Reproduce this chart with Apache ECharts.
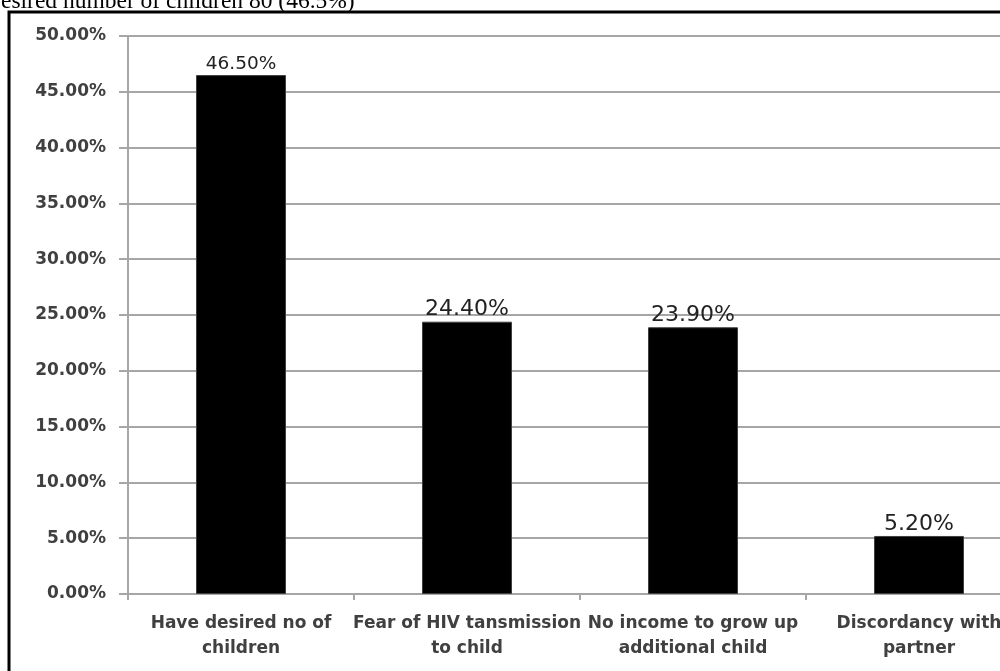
<!DOCTYPE html>
<html>
<head>
<meta charset="utf-8">
<script src="https://cdn.jsdelivr.net/npm/echarts@6/dist/echarts.min.js"></script>
<style>
  html, body { margin: 0; padding: 0; background: #fff; }
  #chart { width: 1000px; height: 671px; }
</style>
</head>
<body>
<div id="chart"></div>
<script>
// Reasons given for not wanting more children (percent of respondents)
const categories = [
  'Have desired no of\nchildren',
  'Fear of HIV tansmission\nto child',
  'No income to grow up\nadditional child',
  'Discordancy with\npartner'
];
const percentages = [46.5, 24.4, 23.9, 5.2];
const valueLabelSizes = [18.5, 22, 22, 22];
const headingText = 'Desired number of children 80 (46.5%)';

const chart = echarts.init(document.getElementById('chart'));

const barData = percentages.map((v, i) => ({
  value: v,
  label: { fontSize: valueLabelSizes[i] }
}));

chart.setOption({
  animation: false,
  backgroundColor: '#ffffff',
  // plot area runs past the right edge of the canvas
  grid: {
    left: 128, width: 904, top: 36, height: 558,
    containLabel: false,
    outerBoundsMode: 'none'
  },
  graphic: [
    {
      type: 'rect',
      shape: { x: 9, y: 12, width: 1200, height: 900 },
      style: { fill: 'none', stroke: '#000', lineWidth: 3 },
      z: 0
    },
    {
      type: 'text',
      x: -16,
      y: -10,
      style: {
        text: headingText,
        fontFamily: '"Liberation Serif", "Times New Roman", serif',
        fontSize: 23.5,
        fill: '#000'
      }
    }
  ],
  xAxis: {
    type: 'category',
    data: categories,
    axisLine: { lineStyle: { color: '#a6a6a6', width: 2 } },
    axisTick: { show: true, length: 6, alignWithLabel: false, lineStyle: { color: '#a6a6a6', width: 2 } },
    axisLabel: {
      color: '#404040',
      fontFamily: 'DejaVu Sans',
      fontWeight: 'bold',
      fontSize: 17,
      lineHeight: 25,
      margin: 17,
      interval: 0
    }
  },
  yAxis: {
    type: 'value',
    min: 0,
    max: 50,
    interval: 5,
    axisLine: { show: true, lineStyle: { color: '#a6a6a6', width: 2 } },
    axisTick: { show: true, length: 9, lineStyle: { color: '#a6a6a6', width: 2 } },
    splitLine: { lineStyle: { color: '#a6a6a6', width: 2 } },
    axisLabel: {
      color: '#404040',
      fontFamily: 'DejaVu Sans',
      fontWeight: 'bold',
      fontSize: 17,
      margin: 22,
      formatter: v => v.toFixed(2) + '%'
    }
  },
  series: [{
    type: 'bar',
    data: barData,
    barWidth: 90,
    itemStyle: { color: '#000', borderColor: '#404040', borderWidth: 1 },
    label: {
      show: true,
      position: 'top',
      distance: 1,
      color: '#222',
      fontFamily: 'DejaVu Sans',
      formatter: p => p.value.toFixed(2) + '%'
    }
  }]
});
</script>
</body>
</html>
